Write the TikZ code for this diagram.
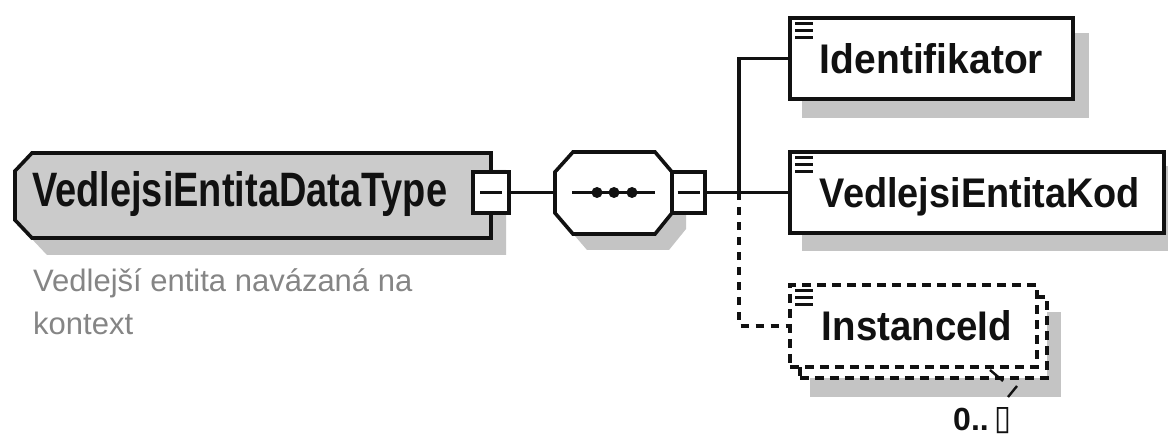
\documentclass[tikz,border=0pt]{standalone}
\usepackage{fontspec}
\setmainfont{Liberation Sans}
\newfontfamily\symfont{DejaVu Sans}
\usepackage{graphicx}
\usetikzlibrary{calc,backgrounds}
\definecolor{shadowc}{HTML}{C4C4C4}
\definecolor{mainfill}{HTML}{CBCBCB}
\definecolor{desccol}{HTML}{858585}
\definecolor{ink}{HTML}{111111}
\tikzset{
  conn/.style={line width=3.2pt, draw=ink},
  dconn/.style={conn, dash pattern=on 8pt off 7pt},
  elem/.style={rectangle, draw=ink, fill=white, line width=3.6pt, inner sep=0pt,
    text=ink, text height=30pt, text depth=0pt, minimum height=81pt},
  optelem/.style={elem, line width=3.4pt, dash pattern=on 9pt off 6pt},
  minusbox/.style={rectangle, draw=ink, fill=white, line width=3.2pt, inner sep=0pt, minimum height=41pt},
  icon/.style={line width=2.8pt, draw=ink},
  shadowfill/.style={fill=shadowc},
  outline/.style={draw=ink, line width=3.6pt, line join=miter},
}
\begin{document}
\begin{tikzpicture}[x=1pt,y=-1pt]
\useasboundingbox (0,0) rectangle (1168,438);

% ---- main element (complex type) ----
\fill[shadowfill] (47,170) -- (506,170) -- (506,255) -- (47,255) -- (30,237) -- (30,188) -- cycle;
\draw[outline, fill=mainfill] (32,153) -- (491,153) -- (491,238) -- (32,238) -- (15,220) -- (15,171) -- cycle;
\node[anchor=base west, inner sep=0pt, text=ink] (maintext) at (32,207)
  {\resizebox{415pt}{35pt}{\bfseries VedlejsiEntitaDataType}};
\node[minusbox, minimum width=36pt] (mainminus) at (491,192.5) {};
\draw[conn] ($(mainminus.center)+(-11,0)$) -- ($(mainminus.center)+(11,0)$);

% description
\node[anchor=base west, inner sep=0pt, text=desccol, font=\fontsize{31}{31}\selectfont] (desc1) at (33,292)
  {Vedlejší entita navázaná na};
\node[anchor=base west, inner sep=0pt, text=desccol, font=\fontsize{31}{31}\selectfont] (desc2) at (33,335)
  {kontext};

% ---- sequence compositor ----
\fill[shadowfill] (569,188) -- (587,168) -- (669,168) -- (686,188) -- (686,229) -- (669,250) -- (587,250) -- (569,229) -- cycle;
\draw[outline, fill=white] (555,172) -- (573,152) -- (655,152) -- (672,172) -- (672,213) -- (655,234) -- (573,234) -- (555,213) -- cycle;
\coordinate (seqwest) at (555,192.5);
\draw[conn] (572,192.5) -- (655,192.5);
\fill[ink] (597,192.5) circle (5.5pt);
\fill[ink] (614,192.5) circle (5.5pt);
\fill[ink] (632,192.5) circle (5.5pt);
\node[minusbox, minimum width=33pt] (seqminus) at (688.5,192.5) {};
\draw[conn] ($(seqminus.center)+(-11,0)$) -- ($(seqminus.center)+(11,0)$);

% ---- child elements ----
\node[elem, minimum width=283pt] (ident) at (931.5,58.5)
  {\resizebox{223pt}{30pt}{\bfseries Identifikator}};
\node[elem, minimum width=374pt] (kod) at (977,192.5)
  {\hspace*{6pt}\resizebox{320pt}{30pt}{\bfseries VedlejsiEntitaKod}};
\node[optelem, minimum width=247pt, minimum height=81pt] (instback) at (923.5,337.5) {};
\node[optelem, minimum width=247pt, minimum height=82pt] (inst) at (913.5,326)
  {\hspace*{7pt}\resizebox{190pt}{30pt}{\bfseries InstanceId}};

% icons
\foreach \n in {ident,kod,inst}{
  \foreach \dy in {7,14,21}{
    \draw[icon] ($(\n.north west)+(7,\dy)$) -- ++(18,0);
  }
}

% ---- shadows ----
\begin{scope}[on background layer]
  \fill[white] (0,0) rectangle (1168,438);
  \fill[shadowfill] ($(ident.north west)+(14,17)$) rectangle ($(ident.south east)+(14,17)$);
  \fill[shadowfill] ($(kod.north west)+(14,16)$) rectangle ($(kod.south east)+(14,16)$);
  \fill[shadowfill] ($(instback.north west)+(12,17)$) rectangle ($(instback.south east)+(12,17)$);
\end{scope}

% ---- connectors ----
\coordinate (junc) at (739,192.5);
\draw[conn] (mainminus.east) -- (seqwest);
\draw[conn] (seqminus.east) -- (kod.west);
\draw[conn] (junc) |- (ident.west);
\draw[dconn] (junc) |- (inst.west);

% ---- cardinality ----
\node[anchor=base west, inner sep=0pt, text=ink, font=\fontsize{32}{32}\selectfont\bfseries] (card) at (953,430)
  {0..\hspace{6pt}{\symfont\mdseries\resizebox{17pt}{22pt}{▯}}};
\draw[line width=2.4pt, draw=ink] (990,370) -- (1003,381);
\draw[line width=2.4pt, draw=ink] (1017,386) -- (1008,397);
\end{tikzpicture}
\end{document}
